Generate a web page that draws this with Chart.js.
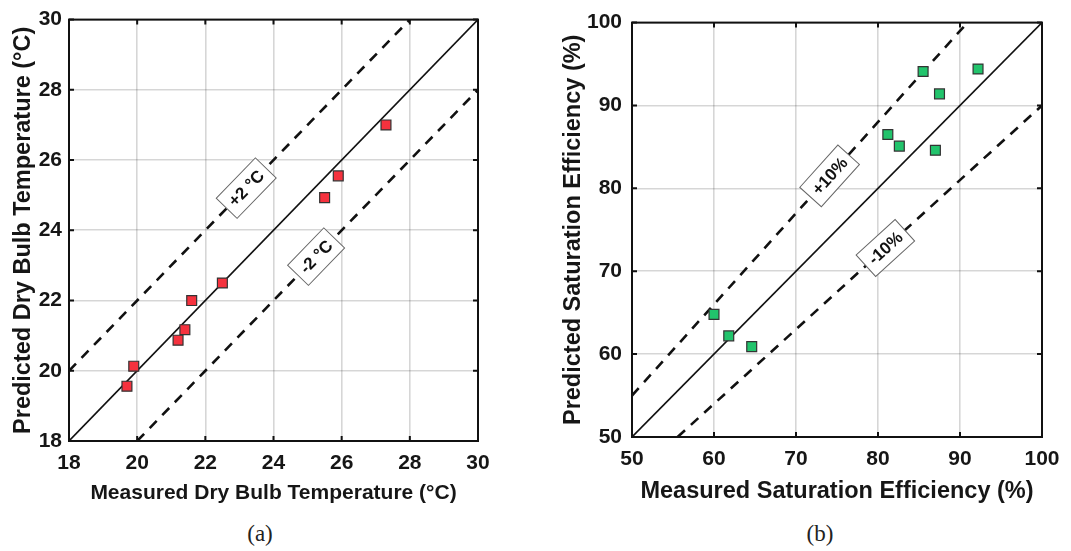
<!DOCTYPE html>
<html>
<head>
<meta charset="utf-8">
<script src="https://cdn.jsdelivr.net/npm/chart.js@4.4.1/dist/chart.umd.min.js"></script>
<style>
  html, body { margin: 0; padding: 0; background: #fff; }
  body { width: 1071px; height: 551px; position: relative; overflow: hidden; }
  .panel { position: absolute; top: 0; height: 510px; }
  #wrapA { left: 0; width: 540px; }
  #wrapB { left: 540px; width: 531px; }
  .caption { position: absolute; top: 521px; font-family: 'Liberation Serif', serif; font-size: 23px; color: #222; transform: translateX(-50%); }
</style>
</head>
<body>
<div class="panel" id="wrapA"><canvas id="chartA"></canvas></div>
<div class="panel" id="wrapB"><canvas id="chartB"></canvas></div>
<div class="caption" style="left:260px">(a)</div>
<div class="caption" style="left:820px">(b)</div>
<script>
// (a) dry bulb temperature (°C)
const tempMeasured  = [19.7, 19.9, 21.2, 21.4, 21.6, 22.5, 25.5, 25.9, 27.3];
const tempPredicted = [19.56, 20.13, 20.87, 21.17, 22.0, 22.5, 24.93, 25.55, 27.0];
const tempTicks = [18, 20, 22, 24, 26, 28, 30];
const tempParityX = [18, 30], tempParityY = [18, 30];
const tempUpperX  = [18, 28], tempUpperY  = [20, 30];
const tempLowerX  = [20, 30], tempLowerY  = [18, 28];
const tempBandText = ['+2 °C', '-2 °C'];
const tempBandAtX  = [23.2, 25.25];
const tempBandAtY  = [25.2, 23.25];

// (b) saturation efficiency (%)
const effMeasured  = [60.0, 61.8, 64.6, 81.2, 82.6, 85.5, 87.0, 87.5, 92.2];
const effPredicted = [64.8, 62.2, 60.9, 86.5, 85.1, 94.1, 84.6, 91.4, 94.4];
const effTicks = [50, 60, 70, 80, 90, 100];
const effParityX = [50, 100],   effParityY = [50, 100];
const effUpperX  = [50, 90.91], effUpperY  = [55, 100];
const effLowerX  = [55.56, 100], effLowerY = [50, 90];
const effBandText = ['+10%', '-10%'];
const effBandAtX  = [74.1, 80.9];
const effBandAtY  = [81.5, 72.8];

const FONT = "'Liberation Sans', Arial, sans-serif";
const INK = '#161616';

function pts(xs, ys) {
  return xs.map((v, i) => ({ x: v, y: ys[i] }));
}

// MATLAB-like box with inward ticks on all four sides
const framePlugin = {
  id: 'frame',
  afterDraw(chart) {
    const { ctx, chartArea: a, scales: { x, y } } = chart;
    ctx.save();
    ctx.strokeStyle = '#111';
    ctx.lineWidth = 2;
    ctx.beginPath();
    x.ticks.forEach(t => {
      const px = x.getPixelForValue(t.value);
      ctx.moveTo(px, a.bottom); ctx.lineTo(px, a.bottom - 5);
      ctx.moveTo(px, a.top); ctx.lineTo(px, a.top + 5);
    });
    y.ticks.forEach(t => {
      const py = y.getPixelForValue(t.value);
      ctx.moveTo(a.left, py); ctx.lineTo(a.left + 5, py);
      ctx.moveTo(a.right, py); ctx.lineTo(a.right - 5, py);
    });
    ctx.stroke();
    ctx.strokeRect(a.left, a.top, a.width, a.height);
    ctx.restore();
  }
};

// rotated boxed labels sitting on the dashed band lines
const bandLabelPlugin = {
  id: 'bandLabels',
  afterDatasetsDraw(chart, args, opts) {
    if (!opts.texts) return;
    const { ctx, scales: { x, y } } = chart;
    opts.texts.forEach((txt, i) => {
      const [lx, ly] = opts.lines[i];
      const slope = (ly[1] - ly[0]) / (lx[1] - lx[0]);
      const px = x.getPixelForValue(opts.xs[i]);
      const py = y.getPixelForValue(opts.ys[i]);
      const ang = Math.atan2(y.getPixelForValue(opts.ys[i] + slope) - py,
                             x.getPixelForValue(opts.xs[i] + 1) - px);
      ctx.save();
      ctx.translate(px, py);
      ctx.rotate(ang);
      ctx.font = 'bold 17px ' + FONT;
      const w = ctx.measureText(txt).width + 13;
      const h = 29;
      ctx.fillStyle = '#fff';
      ctx.fillRect(-w / 2, -h / 2, w, h);
      ctx.strokeStyle = '#666';
      ctx.lineWidth = 1;
      ctx.strokeRect(-w / 2, -h / 2, w, h);
      ctx.fillStyle = '#111';
      ctx.textAlign = 'center';
      ctx.textBaseline = 'middle';
      ctx.fillText(txt, 0, 1);
      ctx.restore();
    });
  }
};

function makeChart(id, s) {
  const ctx = document.getElementById(id).getContext('2d');
  return new Chart(ctx, {
    type: 'scatter',
    data: {
      datasets: [
        {
          data: pts(s.mx, s.my),
          pointStyle: 'rect',
          pointRadius: 7,
          backgroundColor: s.color,
          borderColor: '#333',
          borderWidth: 1.2
        },
        {
          data: pts(s.parity[0], s.parity[1]),
          showLine: true, pointRadius: 0,
          borderColor: '#111', borderWidth: 1.6
        },
        {
          data: pts(s.upper[0], s.upper[1]),
          showLine: true, pointRadius: 0,
          borderColor: '#111', borderWidth: 2.6, borderDash: [10, 8]
        },
        {
          data: pts(s.lower[0], s.lower[1]),
          showLine: true, pointRadius: 0,
          borderColor: '#111', borderWidth: 2.6, borderDash: [10, 8]
        }
      ]
    },
    options: {
      responsive: true,
      maintainAspectRatio: false,
      animation: false,
      events: [],
      layout: { padding: { left: 0, top: 15, right: s.padRight, bottom: 0 } },
      plugins: {
        legend: { display: false },
        tooltip: { enabled: false },
        bandLabels: { texts: s.bandText, xs: s.bandX, ys: s.bandY, lines: [s.upper, s.lower] }
      },
      scales: {
        x: {
          type: 'linear',
          min: s.ticks[0], max: s.ticks[s.ticks.length - 1],
          afterBuildTicks: sc => { sc.ticks = s.ticks.map(v => ({ value: v })); },
          afterFit: sc => { sc.height = s.xHeight; },
          grid: { color: 'rgba(0,0,0,0.16)', lineWidth: 1.6, drawTicks: false },
          border: { display: false },
          ticks: { color: INK, font: { family: FONT, size: s.tickSize, weight: 'bold' }, padding: 10, maxRotation: 0 },
          title: {
            display: true, text: s.xTitle, color: INK,
            font: { family: FONT, size: s.xTitleSize, weight: 'bold' },
            padding: { top: 0, bottom: s.xTitlePad }
          }
        },
        y: {
          type: 'linear',
          min: s.ticks[0], max: s.ticks[s.ticks.length - 1],
          afterBuildTicks: sc => { sc.ticks = s.ticks.map(v => ({ value: v })); },
          afterFit: sc => { sc.width = s.yWidth; },
          grid: { color: 'rgba(0,0,0,0.16)', lineWidth: 1.6, drawTicks: false },
          border: { display: false },
          ticks: { color: INK, font: { family: FONT, size: s.tickSize, weight: 'bold' }, padding: s.yTickPad },
          title: {
            display: true, text: s.yTitle, color: INK,
            font: { family: FONT, size: s.yTitleSize, weight: 'bold' },
            padding: { top: s.yTitlePad, bottom: 0 }
          }
        }
      }
    },
    plugins: [framePlugin, bandLabelPlugin]
  });
}

makeChart('chartA', {
  mx: tempMeasured, my: tempPredicted, color: '#f5323e',
  parity: [tempParityX, tempParityY], upper: [tempUpperX, tempUpperY], lower: [tempLowerX, tempLowerY],
  bandText: tempBandText, bandX: tempBandAtX, bandY: tempBandAtY,
  ticks: tempTicks, tickSize: 21,
  xTitle: 'Measured Dry Bulb Temperature (°C)', xTitleSize: 21, xTitlePad: 4,
  yTitle: 'Predicted Dry Bulb Temperature (°C)', yTitleSize: 23.5, yTitlePad: 9,
  xHeight: 69, yWidth: 69, yTickPad: 7, padRight: 62
});

makeChart('chartB', {
  mx: effMeasured, my: effPredicted, color: '#22c46c',
  parity: [effParityX, effParityY], upper: [effUpperX, effUpperY], lower: [effLowerX, effLowerY],
  bandText: effBandText, bandX: effBandAtX, bandY: effBandAtY,
  ticks: effTicks, tickSize: 21,
  xTitle: 'Measured Saturation Efficiency (%)', xTitleSize: 23.5, xTitlePad: 4,
  yTitle: 'Predicted Saturation Efficiency (%)', yTitleSize: 23.5, yTitlePad: 19,
  xHeight: 73, yWidth: 92, yTickPad: 10, padRight: 29
});
</script>
</body>
</html>
